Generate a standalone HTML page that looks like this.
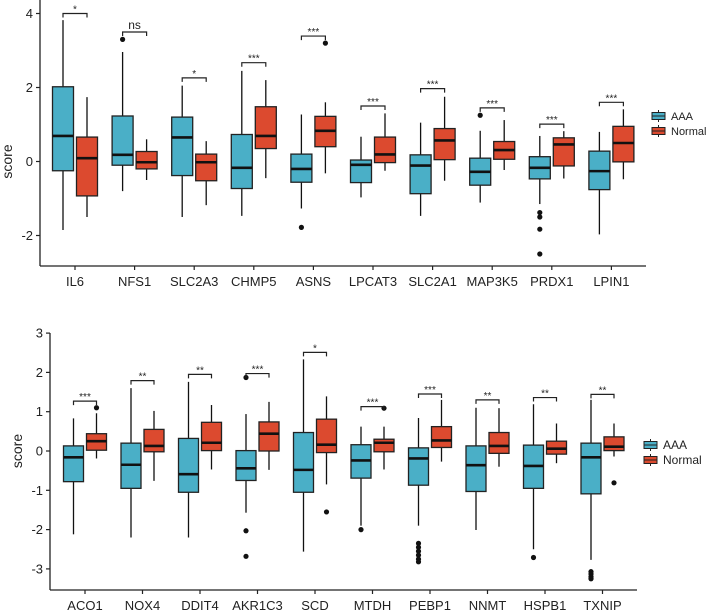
<!DOCTYPE html>
<html><head><meta charset="utf-8"><style>
html,body{margin:0;padding:0;background:#fff;}
svg{display:block;font-family:"Liberation Sans",Arial,sans-serif;}
</style></head><body>
<svg id="chart" width="708" height="610" viewBox="0 0 708 610"></svg>
<script>
// ---- Panel 1 data ----
const genes1 = ["IL6","NFS1","SLC2A3","CHMP5","ASNS","LPCAT3","SLC2A1","MAP3K5","PRDX1","LPIN1"];
// [low, q1, median, q3, high]
const aaa1 = [[-1.85,-0.25,0.69,2.02,3.82],[-0.8,-0.1,0.18,1.23,2.96],[-1.5,-0.38,0.65,1.2,2.05],[-1.47,-0.73,-0.17,0.73,2.45],[-1.27,-0.56,-0.2,0.2,1.27],[-0.97,-0.57,-0.09,0.04,0.67],[-1.47,-0.87,-0.11,0.18,1.05],[-1.11,-0.64,-0.28,0.09,0.83],[-1.15,-0.47,-0.17,0.13,0.69],[-1.97,-0.76,-0.26,0.28,0.8]];
const norm1 = [[-1.5,-0.93,0.09,0.66,1.74],[-0.5,-0.2,-0.02,0.27,0.6],[-1.18,-0.52,-0.02,0.2,0.55],[-0.45,0.35,0.69,1.48,2.2],[-0.32,0.4,0.83,1.22,1.6],[-0.25,-0.03,0.19,0.66,1.3],[-0.52,0.05,0.57,0.89,1.75],[-0.23,0.06,0.31,0.54,1.12],[-0.46,-0.12,0.46,0.64,0.82],[-0.48,-0.01,0.5,0.95,1.41]];
const aaaOut1 = [[],[3.3],[],[],[-1.78],[],[],[1.25],[-1.38,-1.5,-1.83,-2.5],[]];
const normOut1 = [[],[],[],[],[3.2],[],[],[],[],[]];
const sig1 = ["*","ns","*","***","***","***","***","***","***","***"];
const sigY1 = [4.0,3.5,2.26,2.67,3.39,1.5,1.97,1.45,1.01,1.6];
const ticks1 = [-2,0,2,4];
// ---- Panel 2 data ----
const genes2 = ["ACO1","NOX4","DDIT4","AKR1C3","SCD","MTDH","PEBP1","NNMT","HSPB1","TXNIP"];
const aaa2 = [[-2.12,-0.78,-0.16,0.13,0.83],[-2.2,-0.95,-0.35,0.2,1.6],[-2.2,-1.05,-0.59,0.32,1.76],[-1.57,-0.75,-0.44,0.01,0.94],[-2.56,-1.05,-0.48,0.47,2.33],[-1.9,-0.69,-0.24,0.16,0.62],[-1.9,-0.87,-0.19,0.08,0.84],[-2.01,-1.03,-0.36,0.13,1.1],[-2.5,-0.95,-0.38,0.15,1.19],[-2.77,-1.09,-0.16,0.2,1.3]];
const norm2 = [[-0.19,0.02,0.25,0.44,0.96],[-0.76,-0.02,0.13,0.55,1.02],[-0.47,0.01,0.21,0.73,1.17],[-0.48,0.0,0.44,0.74,1.25],[-0.85,-0.04,0.16,0.81,1.39],[-0.47,-0.02,0.21,0.3,0.62],[-0.27,0.09,0.27,0.62,1.3],[-0.4,-0.06,0.13,0.47,1.09],[-0.31,-0.08,0.06,0.25,0.7],[-0.14,0.01,0.11,0.36,0.7]];
const aaaOut2 = [[],[],[],[1.87,-2.03,-2.68],[],[-2.0],[-2.35,-2.45,-2.55,-2.65,-2.75,-2.82],[],[-2.71],[-3.07,-3.13,-3.2,-3.25]];
const normOut2 = [[1.1],[],[],[],[-1.55],[1.09],[],[],[],[-0.81]];
const sig2 = ["***","**","**","***","*","***","***","**","**","**"];
const sigY2 = [1.27,1.79,1.95,1.97,2.51,1.13,1.45,1.3,1.36,1.44];
const ticks2 = [-3,-2,-1,0,1,2,3];

const NS="http://www.w3.org/2000/svg";
const svg=document.getElementById('chart');
const AAA_COL="#4aafc7", NOR_COL="#dc4a2f";
function mk(tag,attrs,parent){const e=document.createElementNS(NS,tag);for(const k in attrs)e.setAttribute(k,attrs[k]);(parent||svg).appendChild(e);return e;}

function drawPanel(p){
  const g=mk('g',{});
  
  
  const y=v=>p.zeroY - v*p.unit;
  const x=i=>p.x0 + i*p.step;
  const ya=mk('line',{x1:p.axX,x2:p.axX,y1:p.axTop,y2:p.axBot,stroke:'#222','stroke-width':1.3},g);
  
  
  const xa=mk('line',{x1:p.axX,x2:p.axRight,y1:p.axBot,y2:p.axBot,stroke:'#222','stroke-width':1.3},g);
  
  
  p.ticks.forEach(t=>{
    mk('line',{x1:p.axX-4,x2:p.axX,y1:y(t),y2:y(t),stroke:'#222','stroke-width':1.2},g);
    const tl=mk('text',{x:p.axX-7,y:y(t)+4.5,'text-anchor':'end','font-size':13,fill:'#222'},g);
    tl.textContent=t;
    
    
  });
  const yt=mk('text',{x:0,y:0,'text-anchor':'middle','font-size':14,fill:'#222',transform:`translate(${p.axX-28},${y(0)}) rotate(-90)`},g);
  yt.textContent='score';
  
  
  p.genes.forEach((gn,i)=>{
    const cx=x(i);
    mk('line',{x1:cx,x2:cx,y1:p.axBot,y2:p.axBot+4,stroke:'#222','stroke-width':1.2},g);
    const lb=mk('text',{x:cx,y:p.axBot+20,'text-anchor':'middle','font-size':13,fill:'#222'},g);
    lb.textContent=gn;
    
    
    [[p.aaa[i],p.aaaOut[i],AAA_COL,-p.off,'aaa'],[p.norm[i],p.normOut[i],NOR_COL,p.off,'normal']].forEach(([s,outs,col,o,nm])=>{
      const bx=cx+o, w=p.bw;
      const bg=mk('g',{},g);
      
      
      mk('line',{x1:bx,x2:bx,y1:y(s[0]),y2:y(s[4]),stroke:'#111','stroke-width':1.3},bg);
      mk('rect',{x:bx-w/2,y:y(s[3]),width:w,height:y(s[1])-y(s[3]),fill:col,stroke:'#222','stroke-width':1.3},bg);
      mk('line',{x1:bx-w/2,x2:bx+w/2,y1:y(s[2]),y2:y(s[2]),stroke:'#111','stroke-width':2.6},bg);
      outs.forEach(v=>{
        const c=mk('circle',{cx:bx,cy:y(v),r:2.6,fill:'#111'},bg);
        
        
      });
    });
    const by=y(p.sigY[i]);
    const br=mk('path',{d:`M${cx-p.off},${by+4}V${by}H${cx+p.off}V${by+4}`,fill:'none',stroke:'#222','stroke-width':1.2},g);
    
    
    const st=mk('text',{x:cx,y:p.sig[i]==='ns'?by-3:by-1,'text-anchor':'middle','font-size':p.sig[i]==='ns'?12:10,fill:'#222'},g);
    st.textContent=p.sig[i];
    
    
  });
  const lg=mk('g',{},g);
  
  
  [['AAA',AAA_COL,p.legY],['Normal',NOR_COL,p.legY+15]].forEach(([t,c,ly])=>{
    const e=mk('g',{},lg);
    
    
    mk('line',{x1:p.legX+6.5,x2:p.legX+6.5,y1:ly-6,y2:ly+6,stroke:'#222','stroke-width':1},e);
    mk('rect',{x:p.legX,y:ly-3.5,width:13,height:7,fill:c,stroke:'#222','stroke-width':1},e);
    mk('line',{x1:p.legX,x2:p.legX+13,y1:ly,y2:ly,stroke:'#222','stroke-width':1},e);
    const tx=mk('text',{x:p.legX+19,y:ly+4,'font-size':p.legFont,fill:'#222'},e);
    tx.textContent=t;
  });
}
drawPanel({name:'top-panel',genes:genes1,aaa:aaa1,norm:norm1,aaaOut:aaaOut1,normOut:normOut1,sig:sig1,sigY:sigY1,ticks:ticks1,
  zeroY:161.5,unit:37,x0:75,step:59.6,off:12,bw:21,axX:40,axTop:0,axBot:266,axRight:646,legX:652,legY:116,legFont:11});
drawPanel({name:'bottom-panel',genes:genes2,aaa:aaa2,norm:norm2,aaaOut:aaaOut2,normOut:normOut2,sig:sig2,sigY:sigY2,ticks:ticks2,
  zeroY:451,unit:39.3,x0:85,step:57.5,off:11.5,bw:20,axX:50,axTop:333,axBot:590,axRight:637,legX:644,legY:445,legFont:12});
</script>
</body></html>
